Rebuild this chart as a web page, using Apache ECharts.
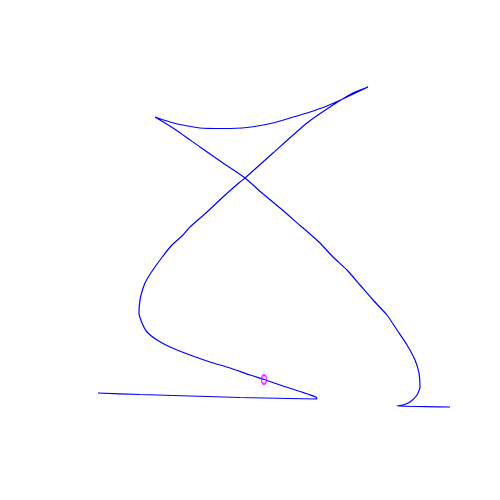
<!DOCTYPE html>
<html>
<head>
<meta charset="utf-8">
<script src="https://cdn.jsdelivr.net/npm/echarts@6/dist/echarts.min.js"></script>
<style>
  html, body { margin: 0; padding: 0; background: #fff; }
  #main { width: 500px; height: 500px; }
</style>
</head>
<body>
<div id="main"></div>
<script>
var bottomX = [98, 140, 190, 240, 290, 317];
var bottomY = [107, 105.5, 104, 102.5, 101.5, 101];

var loopX = [316, 300, 283, 264, 250, 230, 210, 190, 170, 157, 147, 142, 139, 139.5, 141, 145, 151.5, 161.5, 172, 182, 190, 207, 223, 240, 245, 273, 307, 333, 353, 368];
var loopY = [103, 108.5, 114, 120.5, 125, 132, 138, 145, 153, 160, 168, 177, 187, 196, 205, 217, 228, 242, 255, 264, 273, 288, 303, 318, 322, 347, 377, 395, 407, 413];

var arcX = [347, 327, 307, 290, 273, 247, 223, 200, 180, 167, 155];
var arcY = [403, 394, 387, 382, 377, 372.5, 371.5, 372, 375.5, 379, 383];

var sweepX = [173, 200, 223, 245, 262, 283, 300, 310, 320, 333, 347, 360, 373, 387, 397, 407, 415, 419, 420, 417, 410, 403, 397, 450];
var sweepY = [372, 353, 337, 322, 307, 289.5, 274.5, 266, 257, 243, 230, 215, 200, 185, 170, 155, 140, 127, 113, 105, 98, 95, 94, 93];

var markerX = [264];
var markerY = [120.5];

var pathX = bottomX.concat(loopX, arcX, sweepX);
var pathY = bottomY.concat(loopY, arcY, sweepY);
var pathData = pathX.map(function (x, i) { return [x, pathY[i]]; });

var chart = echarts.init(document.getElementById('main'));

chart.setOption({
  animation: false,
  backgroundColor: '#ffffff',
  grid: { left: 0, right: 0, top: 0, bottom: 0 },
  xAxis: { type: 'value', min: 0, max: 500, show: false },
  yAxis: { type: 'value', min: 0, max: 500, show: false },
  series: [
    {
      type: 'line',
      data: pathData,
      showSymbol: false,
      symbol: 'none',
      smooth: 0.2,
      lineStyle: { color: '#0000ff', width: 1.2 }
    },
    {
      type: 'scatter',
      data: markerX.map(function (x, i) { return [x, markerY[i]]; }),
      symbol: 'circle',
      symbolSize: [5, 9],
      itemStyle: { color: 'rgba(0,0,0,0)', borderColor: '#ff00ff', borderWidth: 1.8 },
      z: 3
    }
  ]
});
</script>
</body>
</html>
